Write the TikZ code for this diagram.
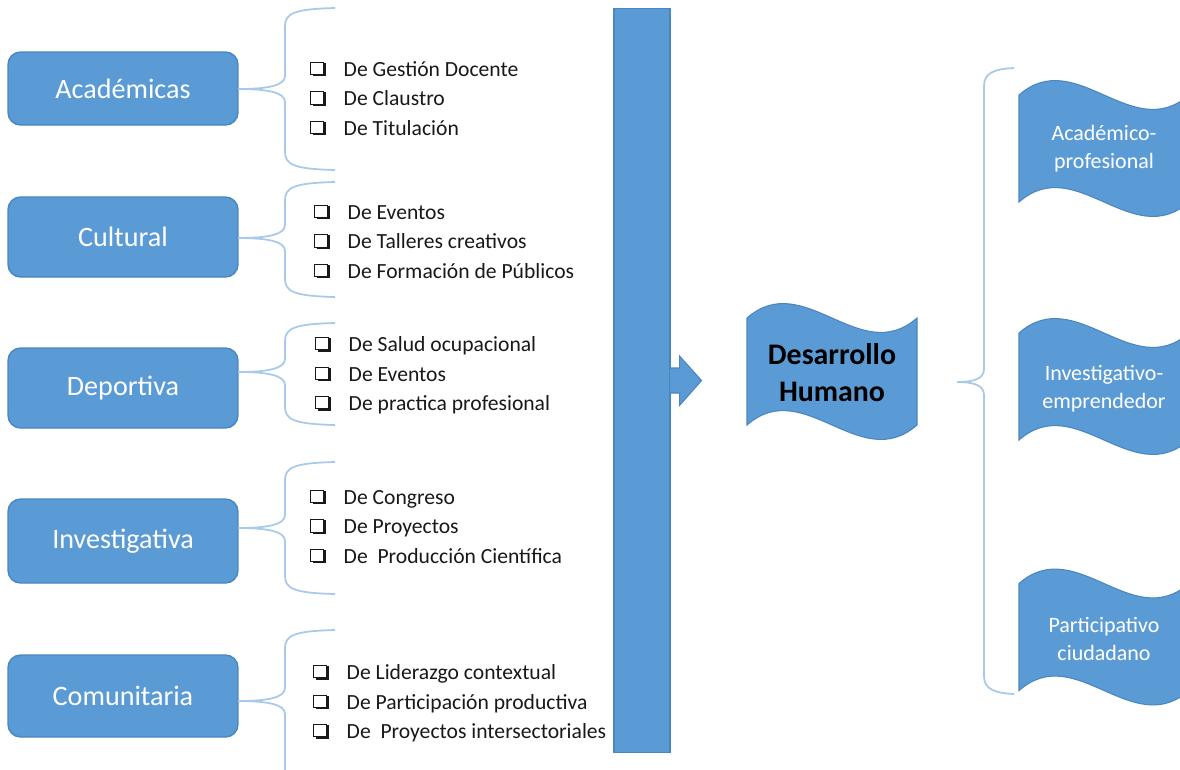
\documentclass[tikz,border=0pt]{standalone}
\usepackage{fontspec}
\setmainfont{Carlito}
\definecolor{boxblue}{HTML}{5B9BD5}
\definecolor{boxline}{HTML}{4A86C0}
\definecolor{bracecol}{HTML}{A9C9EA}
\def\chk{\makebox[19pt][l]{\raisebox{1.2pt}{\rlap{\kern1.3pt\rule[-1.3pt]{7.6pt}{7.6pt}}\rlap{\color{white}\rule{7.6pt}{7.6pt}}\rlap{\setlength\fboxsep{0pt}\setlength\fboxrule{0.6pt}\fbox{\rule{0pt}{6.4pt}\kern6.4pt}}}}}
\def\curlybrace(#1,#2)(#3:#4:#5){%
  \draw[brace] (#1,#2) .. controls (#1+0.6*#5,#2) and (#1+#5,#2-3) .. (#1+#5,#2-13) -- (#1+#5,#3+18) .. controls (#1+#5,#3+5) and (#1+#5+10,#3+1) .. (#1+2*#5+3,#3);
  \draw[brace] (#1,#2) .. controls (#1+0.6*#5,#2) and (#1+#5,#2+3) .. (#1+#5,#2+13) -- (#1+#5,#4-18) .. controls (#1+#5,#4-5) and (#1+#5+10,#4-1) .. (#1+2*#5+3,#4);}
\def\waveshape(#1,#2){%
  \filldraw[wave] (#1-85,#2-53.5) .. controls +(57,-50) and +(-57,50) .. ++(170,0) -- ++(0,107) .. controls +(-57,50) and +(57,-50) .. ++(-170,0) -- cycle;}

\begin{document}
\begin{tikzpicture}[x=0.02cm,y=-0.02cm,
    area/.style={rectangle,rounded corners=0.25cm,fill=boxblue,draw=boxline,line width=0.8pt,
      text=white,minimum width=4.6cm,minimum height=1.6cm,font=\fontsize{16}{19}\selectfont},
    items/.style={align=left,inner sep=0pt,anchor=west,font=\fontsize{12.3}{16.8}\selectfont,text=black!90},
    brace/.style={draw=bracecol,line width=1pt},
    wave/.style={fill=boxblue,draw=boxline,line width=0.6pt},
    flagtext/.style={align=center,text=white,font=\fontsize{12.5}{16}\selectfont},
    bar/.style={fill=boxblue,draw=boxline,line width=0.6pt,minimum width=1.12cm,minimum height=14.9cm,inner sep=0pt}]
		%%%%% START %%%%%
		\clip (0,0) rectangle (1180,769);
		\fill[white] (0,0) rectangle (1180,769);
		
		\node[area,minimum height=1.46cm] (acad) at (123,88.5) {Académicas};
		\node[area] (cult) at (123,237) {Cultural};
		\node[area] (dep) at (123,388) {Deportiva};
		\node[area,minimum height=1.68cm] (inv) at (123,541) {Investigativa};
		\node[area,minimum height=1.64cm] (com) at (123,696) {Comunitaria};
		
		\curlybrace(238,89)(8:170:47)
		\curlybrace(238,238)(182:297:47)
		\curlybrace(238,372)(323:425:47)
		\curlybrace(238,528)(462:594:47)
		\curlybrace(238,701)(630:800:47)
		
		\node[items] (acadlist) at (310,98) {\chk De Gestión Docente\\ \chk De Claustro\\ \chk De Titulación};
		\node[items] (cultlist) at (314,241) {\chk De Eventos\\ \chk De Talleres creativos\\ \chk De Formación de Públicos};
		\node[items] (deplist) at (315,375) {\chk De Salud ocupacional\\ \chk De Eventos\\ \chk De practica profesional};
		\node[items] (invlist) at (310,526) {\chk De Congreso\\ \chk De Proyectos\\ \chk De\ \ Producción Científica};
		\node[items] (comlist) at (313,703) {\chk De Liderazgo contextual\\ \chk De Participación productiva\\ \chk De\ \ Proyectos intersectoriales};
		
		\node[bar] (bar) at (642,380.5) {};
		\filldraw[wave] (bar.east) ++(-1,-12.5) -- ++(10,0) -- ++(0,-12) -- ++(22,24.5) -- ++(-22,25) -- ++(0,-12.5) -- ++(-10,0) -- cycle;
		
		\waveshape(832,371.5)
		\node[align=center,font=\fontsize{17}{21}\selectfont\bfseries] (dh) at (832,373) {Desarrollo\\Humano};
		
		\curlybrace(957,382)(68:694:27)
		
		\waveshape(1104,148.5)
		\node[flagtext] (acadpro) at (1104,149) {Académico-\\profesional};
		\waveshape(1104,386.5)
		\node[flagtext] (invemp) at (1104,389) {Investigativo-\\emprendedor};
		\waveshape(1104,637)
		\node[flagtext] (partciu) at (1104,639) {Participativo\\ciudadano};
		%%%%% END %%%%%
\end{tikzpicture}
\end{document}
